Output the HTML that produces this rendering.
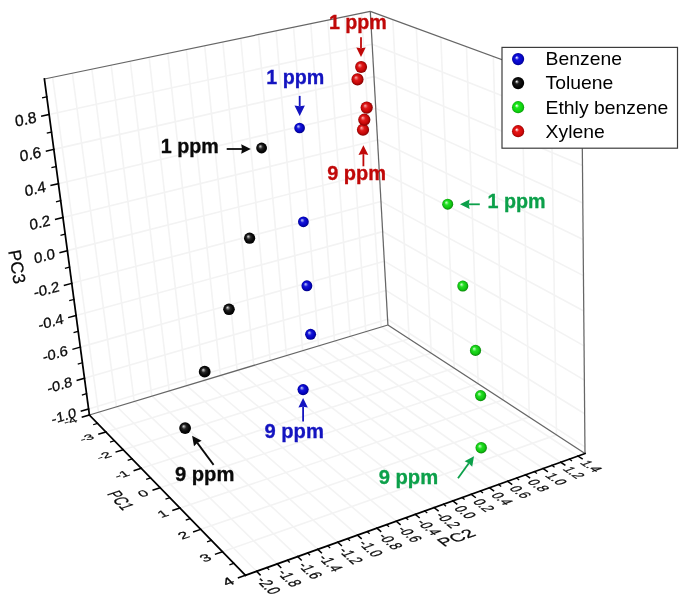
<!DOCTYPE html>
<html lang="en">
<head>
<meta charset="utf-8">
<title>PCA 3D scatter</title>
<style>
html,body{margin:0;padding:0;background:#fff;}
body{width:685px;height:597px;overflow:hidden;}
svg{display:block;font-family:"Liberation Sans",sans-serif;will-change:transform;}
</style>
</head>
<body>
<svg width="685" height="597" viewBox="0 0 685 597">
<rect width="685" height="597" fill="#fff"/>
<defs>
<radialGradient id="g_blue" cx="0.5" cy="0.5" r="0.52" fx="0.37" fy="0.36">
<stop offset="0" stop-color="#eeeeff"/><stop offset="0.09" stop-color="#c4c4fa"/><stop offset="0.2" stop-color="#6a6aee"/><stop offset="0.32" stop-color="#1212dc"/><stop offset="0.72" stop-color="#0606c6"/><stop offset="1" stop-color="#00008c"/></radialGradient>
<radialGradient id="g_black" cx="0.5" cy="0.5" r="0.52" fx="0.37" fy="0.36">
<stop offset="0" stop-color="#f6f6f6"/><stop offset="0.09" stop-color="#c8c8c8"/><stop offset="0.2" stop-color="#6c6c6c"/><stop offset="0.32" stop-color="#1c1c1c"/><stop offset="0.72" stop-color="#060606"/><stop offset="1" stop-color="#000"/></radialGradient>
<radialGradient id="g_green" cx="0.5" cy="0.5" r="0.52" fx="0.37" fy="0.36">
<stop offset="0" stop-color="#f4fff0"/><stop offset="0.09" stop-color="#ccfcc8"/><stop offset="0.2" stop-color="#7af47a"/><stop offset="0.32" stop-color="#1ce81c"/><stop offset="0.72" stop-color="#10d410"/><stop offset="1" stop-color="#0a960a"/></radialGradient>
<radialGradient id="g_red" cx="0.5" cy="0.5" r="0.52" fx="0.37" fy="0.36">
<stop offset="0" stop-color="#fff0f0"/><stop offset="0.09" stop-color="#fcc8c8"/><stop offset="0.2" stop-color="#f27070"/><stop offset="0.32" stop-color="#e61616"/><stop offset="0.72" stop-color="#d40a0a"/><stop offset="1" stop-color="#8e0000"/></radialGradient>
<radialGradient id="p_blue" cx="0.5" cy="0.5" r="0.54" fx="0.36" fy="0.33">
<stop offset="0" stop-color="#c4ccf4"/><stop offset="0.16" stop-color="#7a82ea"/><stop offset="0.36" stop-color="#1616d8"/><stop offset="0.68" stop-color="#0404c4"/><stop offset="1" stop-color="#000078"/></radialGradient>
<radialGradient id="p_black" cx="0.5" cy="0.5" r="0.54" fx="0.36" fy="0.33">
<stop offset="0" stop-color="#e2e2e2"/><stop offset="0.16" stop-color="#8a8a8a"/><stop offset="0.36" stop-color="#262626"/><stop offset="0.68" stop-color="#080808"/><stop offset="1" stop-color="#000"/></radialGradient>
<radialGradient id="p_green" cx="0.5" cy="0.5" r="0.54" fx="0.36" fy="0.33">
<stop offset="0" stop-color="#d4fccc"/><stop offset="0.16" stop-color="#84f284"/><stop offset="0.36" stop-color="#22de22"/><stop offset="0.68" stop-color="#12c812"/><stop offset="1" stop-color="#087808"/></radialGradient>
<radialGradient id="p_red" cx="0.5" cy="0.5" r="0.54" fx="0.36" fy="0.33">
<stop offset="0" stop-color="#f6b4b4"/><stop offset="0.16" stop-color="#ee6a6a"/><stop offset="0.36" stop-color="#de1a1a"/><stop offset="0.68" stop-color="#c80808"/><stop offset="1" stop-color="#700000"/></radialGradient>
</defs>
<g id="grid" fill="none">
<line x1="98.52" y1="412.25" x2="52.64" y2="77.29" stroke="#f3f3f3" stroke-width="1.6" />
<line x1="99.04" y1="412.09" x2="256.54" y2="571.31" stroke="#f3f3f3" stroke-width="1.6" />
<line x1="116.44" y1="406.85" x2="72.35" y2="73.19" stroke="#f3f3f3" stroke-width="1.6" />
<line x1="116.92" y1="406.70" x2="277.17" y2="563.91" stroke="#f3f3f3" stroke-width="1.6" />
<line x1="134.19" y1="401.49" x2="91.85" y2="69.14" stroke="#f3f3f3" stroke-width="1.6" />
<line x1="134.63" y1="401.36" x2="297.57" y2="556.59" stroke="#f3f3f3" stroke-width="1.6" />
<line x1="151.77" y1="396.19" x2="111.14" y2="65.13" stroke="#f3f3f3" stroke-width="1.6" />
<line x1="152.18" y1="396.07" x2="317.74" y2="549.36" stroke="#f3f3f3" stroke-width="1.6" />
<line x1="169.18" y1="390.95" x2="130.24" y2="61.17" stroke="#f3f3f3" stroke-width="1.6" />
<line x1="169.56" y1="390.83" x2="337.68" y2="542.20" stroke="#f3f3f3" stroke-width="1.6" />
<line x1="186.42" y1="385.75" x2="149.14" y2="57.24" stroke="#f3f3f3" stroke-width="1.6" />
<line x1="186.78" y1="385.64" x2="357.40" y2="535.13" stroke="#f3f3f3" stroke-width="1.6" />
<line x1="203.50" y1="380.60" x2="167.84" y2="53.36" stroke="#f3f3f3" stroke-width="1.6" />
<line x1="203.84" y1="380.49" x2="376.90" y2="528.14" stroke="#f3f3f3" stroke-width="1.6" />
<line x1="220.42" y1="375.50" x2="186.35" y2="49.51" stroke="#f3f3f3" stroke-width="1.6" />
<line x1="220.75" y1="375.40" x2="396.18" y2="521.22" stroke="#f3f3f3" stroke-width="1.6" />
<line x1="237.17" y1="370.44" x2="204.67" y2="45.71" stroke="#f3f3f3" stroke-width="1.6" />
<line x1="237.50" y1="370.35" x2="415.26" y2="514.38" stroke="#f3f3f3" stroke-width="1.6" />
<line x1="253.77" y1="365.44" x2="222.80" y2="41.94" stroke="#f3f3f3" stroke-width="1.6" />
<line x1="254.10" y1="365.34" x2="434.12" y2="507.61" stroke="#f3f3f3" stroke-width="1.6" />
<line x1="270.22" y1="360.48" x2="240.75" y2="38.21" stroke="#f3f3f3" stroke-width="1.6" />
<line x1="270.54" y1="360.38" x2="452.79" y2="500.92" stroke="#f3f3f3" stroke-width="1.6" />
<line x1="286.51" y1="355.57" x2="258.52" y2="34.52" stroke="#f3f3f3" stroke-width="1.6" />
<line x1="286.84" y1="355.47" x2="471.25" y2="494.30" stroke="#f3f3f3" stroke-width="1.6" />
<line x1="302.65" y1="350.70" x2="276.11" y2="30.87" stroke="#f3f3f3" stroke-width="1.6" />
<line x1="302.99" y1="350.60" x2="489.51" y2="487.75" stroke="#f3f3f3" stroke-width="1.6" />
<line x1="318.64" y1="345.88" x2="293.53" y2="27.25" stroke="#f3f3f3" stroke-width="1.6" />
<line x1="318.99" y1="345.78" x2="507.57" y2="481.27" stroke="#f3f3f3" stroke-width="1.6" />
<line x1="334.49" y1="341.10" x2="310.77" y2="23.67" stroke="#f3f3f3" stroke-width="1.6" />
<line x1="334.86" y1="340.99" x2="525.45" y2="474.86" stroke="#f3f3f3" stroke-width="1.6" />
<line x1="350.19" y1="336.37" x2="327.85" y2="20.12" stroke="#f3f3f3" stroke-width="1.6" />
<line x1="350.58" y1="336.25" x2="543.13" y2="468.52" stroke="#f3f3f3" stroke-width="1.6" />
<line x1="365.74" y1="331.68" x2="344.75" y2="16.61" stroke="#f3f3f3" stroke-width="1.6" />
<line x1="366.16" y1="331.55" x2="560.64" y2="462.24" stroke="#f3f3f3" stroke-width="1.6" />
<line x1="381.16" y1="327.03" x2="361.49" y2="13.13" stroke="#f3f3f3" stroke-width="1.6" />
<line x1="381.61" y1="326.90" x2="577.95" y2="456.03" stroke="#f3f3f3" stroke-width="1.6" />
<line x1="88.59" y1="408.92" x2="387.58" y2="319.29" stroke="#f3f3f3" stroke-width="1.6" />
<line x1="387.58" y1="319.27" x2="584.94" y2="446.94" stroke="#f3f3f3" stroke-width="1.6" />
<line x1="84.48" y1="378.26" x2="385.96" y2="290.49" stroke="#f3f3f3" stroke-width="1.6" />
<line x1="385.96" y1="290.41" x2="584.65" y2="413.80" stroke="#f3f3f3" stroke-width="1.6" />
<line x1="80.31" y1="347.12" x2="384.32" y2="261.27" stroke="#f3f3f3" stroke-width="1.6" />
<line x1="384.32" y1="261.13" x2="584.36" y2="380.11" stroke="#f3f3f3" stroke-width="1.6" />
<line x1="76.07" y1="315.47" x2="382.66" y2="231.62" stroke="#f3f3f3" stroke-width="1.6" />
<line x1="382.65" y1="231.45" x2="584.05" y2="345.86" stroke="#f3f3f3" stroke-width="1.6" />
<line x1="71.76" y1="283.32" x2="380.97" y2="201.54" stroke="#f3f3f3" stroke-width="1.6" />
<line x1="380.96" y1="201.34" x2="583.75" y2="311.03" stroke="#f3f3f3" stroke-width="1.6" />
<line x1="67.39" y1="250.65" x2="379.26" y2="171.01" stroke="#f3f3f3" stroke-width="1.6" />
<line x1="379.25" y1="170.80" x2="583.44" y2="275.60" stroke="#f3f3f3" stroke-width="1.6" />
<line x1="62.94" y1="217.44" x2="377.52" y2="140.02" stroke="#f3f3f3" stroke-width="1.6" />
<line x1="377.51" y1="139.82" x2="583.12" y2="239.56" stroke="#f3f3f3" stroke-width="1.6" />
<line x1="58.42" y1="183.68" x2="375.76" y2="108.57" stroke="#f3f3f3" stroke-width="1.6" />
<line x1="375.75" y1="108.39" x2="582.80" y2="202.90" stroke="#f3f3f3" stroke-width="1.6" />
<line x1="53.82" y1="149.37" x2="373.97" y2="76.64" stroke="#f3f3f3" stroke-width="1.6" />
<line x1="373.96" y1="76.50" x2="582.47" y2="165.60" stroke="#f3f3f3" stroke-width="1.6" />
<line x1="49.15" y1="114.48" x2="372.15" y2="44.22" stroke="#f3f3f3" stroke-width="1.6" />
<line x1="372.14" y1="44.14" x2="582.14" y2="127.64" stroke="#f3f3f3" stroke-width="1.6" />
<line x1="409.14" y1="338.85" x2="392.81" y2="19.57" stroke="#f3f3f3" stroke-width="1.6" />
<line x1="105.92" y1="431.98" x2="409.08" y2="338.81" stroke="#f3f3f3" stroke-width="1.6" />
<line x1="431.24" y1="353.26" x2="416.30" y2="28.20" stroke="#f3f3f3" stroke-width="1.6" />
<line x1="123.18" y1="449.71" x2="431.13" y2="353.18" stroke="#f3f3f3" stroke-width="1.6" />
<line x1="454.24" y1="368.25" x2="440.83" y2="37.21" stroke="#f3f3f3" stroke-width="1.6" />
<line x1="141.23" y1="468.26" x2="454.09" y2="368.15" stroke="#f3f3f3" stroke-width="1.6" />
<line x1="478.21" y1="383.88" x2="466.47" y2="46.63" stroke="#f3f3f3" stroke-width="1.6" />
<line x1="160.12" y1="487.67" x2="478.04" y2="383.77" stroke="#f3f3f3" stroke-width="1.6" />
<line x1="503.19" y1="400.17" x2="493.30" y2="56.49" stroke="#f3f3f3" stroke-width="1.6" />
<line x1="179.91" y1="508.01" x2="503.03" y2="400.06" stroke="#f3f3f3" stroke-width="1.6" />
<line x1="529.27" y1="417.17" x2="521.40" y2="66.81" stroke="#f3f3f3" stroke-width="1.6" />
<line x1="200.67" y1="529.34" x2="529.14" y2="417.08" stroke="#f3f3f3" stroke-width="1.6" />
<line x1="556.51" y1="434.93" x2="550.87" y2="77.64" stroke="#f3f3f3" stroke-width="1.6" />
<line x1="222.48" y1="551.74" x2="556.43" y2="434.87" stroke="#f3f3f3" stroke-width="1.6" />
</g>
<g id="edges">
<line x1="44.40" y1="79.00" x2="370.30" y2="11.30" stroke="#666666" stroke-width="1.25" />
<line x1="370.30" y1="11.30" x2="387.90" y2="325.00" stroke="#666666" stroke-width="1.25" />
<line x1="89.40" y1="415.00" x2="387.90" y2="325.00" stroke="#666666" stroke-width="1.25" />
<line x1="387.90" y1="325.00" x2="585.00" y2="453.50" stroke="#666666" stroke-width="1.25" />
<line x1="370.30" y1="11.30" x2="581.80" y2="89.00" stroke="#666666" stroke-width="1.25" />
<line x1="581.80" y1="89.00" x2="585.00" y2="453.50" stroke="#666666" stroke-width="1.25" />
</g>
<g id="axes" stroke-linecap="square">
<line x1="44.40" y1="79.00" x2="89.40" y2="415.00" stroke="#000" stroke-width="1.75" />
<line x1="89.40" y1="415.00" x2="245.40" y2="575.30" stroke="#000" stroke-width="1.75" />
<line x1="245.40" y1="575.30" x2="585.00" y2="453.50" stroke="#000" stroke-width="1.75" />
<line x1="88.59" y1="408.92" x2="81.40" y2="411.08" stroke="#000" stroke-width="1.5" />
<line x1="86.54" y1="393.65" x2="82.51" y2="394.84" stroke="#000" stroke-width="1.3" />
<line x1="84.48" y1="378.26" x2="77.28" y2="380.36" stroke="#000" stroke-width="1.5" />
<line x1="82.40" y1="362.75" x2="78.37" y2="363.91" stroke="#000" stroke-width="1.3" />
<line x1="80.31" y1="347.12" x2="73.09" y2="349.15" stroke="#000" stroke-width="1.5" />
<line x1="78.20" y1="331.36" x2="74.15" y2="332.48" stroke="#000" stroke-width="1.3" />
<line x1="76.07" y1="315.47" x2="68.84" y2="317.45" stroke="#000" stroke-width="1.5" />
<line x1="73.93" y1="299.46" x2="69.87" y2="300.55" stroke="#000" stroke-width="1.3" />
<line x1="71.76" y1="283.32" x2="64.51" y2="285.24" stroke="#000" stroke-width="1.5" />
<line x1="69.59" y1="267.05" x2="65.52" y2="268.11" stroke="#000" stroke-width="1.3" />
<line x1="67.39" y1="250.65" x2="60.12" y2="252.50" stroke="#000" stroke-width="1.5" />
<line x1="65.17" y1="234.11" x2="61.10" y2="235.13" stroke="#000" stroke-width="1.3" />
<line x1="62.94" y1="217.44" x2="55.66" y2="219.23" stroke="#000" stroke-width="1.5" />
<line x1="60.69" y1="200.63" x2="56.61" y2="201.62" stroke="#000" stroke-width="1.3" />
<line x1="58.42" y1="183.68" x2="51.12" y2="185.41" stroke="#000" stroke-width="1.5" />
<line x1="56.13" y1="166.60" x2="52.04" y2="167.55" stroke="#000" stroke-width="1.3" />
<line x1="53.82" y1="149.37" x2="46.51" y2="151.03" stroke="#000" stroke-width="1.5" />
<line x1="51.50" y1="132.00" x2="47.40" y2="132.91" stroke="#000" stroke-width="1.3" />
<line x1="49.15" y1="114.48" x2="41.82" y2="116.07" stroke="#000" stroke-width="1.5" />
<line x1="46.79" y1="96.81" x2="42.68" y2="97.69" stroke="#000" stroke-width="1.3" />
<line x1="89.40" y1="415.00" x2="82.41" y2="417.11" stroke="#000" stroke-width="1.5" />
<line x1="97.57" y1="423.40" x2="93.75" y2="424.56" stroke="#000" stroke-width="1.3" />
<line x1="105.92" y1="431.98" x2="98.95" y2="434.12" stroke="#000" stroke-width="1.5" />
<line x1="114.46" y1="440.75" x2="110.64" y2="441.93" stroke="#000" stroke-width="1.3" />
<line x1="123.18" y1="449.71" x2="116.22" y2="451.90" stroke="#000" stroke-width="1.5" />
<line x1="132.11" y1="458.88" x2="128.29" y2="460.09" stroke="#000" stroke-width="1.3" />
<line x1="141.23" y1="468.26" x2="134.28" y2="470.48" stroke="#000" stroke-width="1.5" />
<line x1="150.57" y1="477.85" x2="146.76" y2="479.08" stroke="#000" stroke-width="1.3" />
<line x1="160.12" y1="487.67" x2="153.18" y2="489.94" stroke="#000" stroke-width="1.5" />
<line x1="169.90" y1="497.72" x2="166.10" y2="498.97" stroke="#000" stroke-width="1.3" />
<line x1="179.91" y1="508.01" x2="172.99" y2="510.32" stroke="#000" stroke-width="1.5" />
<line x1="190.17" y1="518.54" x2="186.38" y2="519.82" stroke="#000" stroke-width="1.3" />
<line x1="200.67" y1="529.34" x2="193.77" y2="531.70" stroke="#000" stroke-width="1.5" />
<line x1="211.44" y1="540.40" x2="207.66" y2="541.71" stroke="#000" stroke-width="1.3" />
<line x1="222.48" y1="551.74" x2="215.59" y2="554.15" stroke="#000" stroke-width="1.5" />
<line x1="233.79" y1="563.37" x2="230.02" y2="564.71" stroke="#000" stroke-width="1.3" />
<line x1="245.40" y1="575.30" x2="238.53" y2="577.76" stroke="#000" stroke-width="1.5" />
<line x1="256.54" y1="571.31" x2="260.05" y2="574.86" stroke="#000" stroke-width="1.5" />
<line x1="266.88" y1="567.60" x2="268.72" y2="569.43" stroke="#000" stroke-width="1.3" />
<line x1="277.17" y1="563.91" x2="280.74" y2="567.41" stroke="#000" stroke-width="1.5" />
<line x1="287.40" y1="560.24" x2="289.27" y2="562.04" stroke="#000" stroke-width="1.3" />
<line x1="297.57" y1="556.59" x2="301.19" y2="560.04" stroke="#000" stroke-width="1.5" />
<line x1="307.68" y1="552.96" x2="309.57" y2="554.74" stroke="#000" stroke-width="1.3" />
<line x1="317.74" y1="549.36" x2="321.40" y2="552.75" stroke="#000" stroke-width="1.5" />
<line x1="327.73" y1="545.77" x2="329.65" y2="547.52" stroke="#000" stroke-width="1.3" />
<line x1="337.68" y1="542.20" x2="341.39" y2="545.55" stroke="#000" stroke-width="1.5" />
<line x1="347.56" y1="538.66" x2="349.51" y2="540.38" stroke="#000" stroke-width="1.3" />
<line x1="357.40" y1="535.13" x2="361.16" y2="538.43" stroke="#000" stroke-width="1.5" />
<line x1="367.17" y1="531.62" x2="369.14" y2="533.33" stroke="#000" stroke-width="1.3" />
<line x1="376.90" y1="528.14" x2="380.70" y2="531.38" stroke="#000" stroke-width="1.5" />
<line x1="386.57" y1="524.67" x2="388.56" y2="526.34" stroke="#000" stroke-width="1.3" />
<line x1="396.18" y1="521.22" x2="400.03" y2="524.42" stroke="#000" stroke-width="1.5" />
<line x1="405.75" y1="517.79" x2="407.76" y2="519.44" stroke="#000" stroke-width="1.3" />
<line x1="415.26" y1="514.38" x2="419.14" y2="517.53" stroke="#000" stroke-width="1.5" />
<line x1="424.72" y1="510.99" x2="426.75" y2="512.61" stroke="#000" stroke-width="1.3" />
<line x1="434.12" y1="507.61" x2="438.05" y2="510.71" stroke="#000" stroke-width="1.5" />
<line x1="443.48" y1="504.26" x2="445.53" y2="505.86" stroke="#000" stroke-width="1.3" />
<line x1="452.79" y1="500.92" x2="456.75" y2="503.97" stroke="#000" stroke-width="1.5" />
<line x1="462.04" y1="497.60" x2="464.11" y2="499.18" stroke="#000" stroke-width="1.3" />
<line x1="471.25" y1="494.30" x2="475.24" y2="497.31" stroke="#000" stroke-width="1.5" />
<line x1="480.40" y1="491.02" x2="482.49" y2="492.57" stroke="#000" stroke-width="1.3" />
<line x1="489.51" y1="487.75" x2="493.54" y2="490.71" stroke="#000" stroke-width="1.5" />
<line x1="498.56" y1="484.50" x2="500.67" y2="486.03" stroke="#000" stroke-width="1.3" />
<line x1="507.57" y1="481.27" x2="511.63" y2="484.19" stroke="#000" stroke-width="1.5" />
<line x1="516.54" y1="478.06" x2="518.65" y2="479.56" stroke="#000" stroke-width="1.3" />
<line x1="525.45" y1="474.86" x2="529.54" y2="477.73" stroke="#000" stroke-width="1.5" />
<line x1="534.32" y1="471.68" x2="536.45" y2="473.16" stroke="#000" stroke-width="1.3" />
<line x1="543.13" y1="468.52" x2="547.26" y2="471.35" stroke="#000" stroke-width="1.5" />
<line x1="551.91" y1="465.37" x2="554.06" y2="466.83" stroke="#000" stroke-width="1.3" />
<line x1="560.64" y1="462.24" x2="564.79" y2="465.03" stroke="#000" stroke-width="1.5" />
<line x1="569.32" y1="459.13" x2="571.48" y2="460.56" stroke="#000" stroke-width="1.3" />
<line x1="577.95" y1="456.03" x2="582.13" y2="458.78" stroke="#000" stroke-width="1.5" />
</g>
<g id="ticklabels" fill="#0a0a0a" stroke="#0a0a0a" stroke-width="0.3">
<text transform="matrix(0.9437 -0.2829 0.1205 0.8999 76.13 412.66)" x="0.00" y="4.70" text-anchor="end" font-size="15.0" font-weight="normal">-1.0</text>
<text transform="matrix(0.9521 -0.2772 0.1224 0.9141 72.00 381.90)" x="0.00" y="4.70" text-anchor="end" font-size="15.0" font-weight="normal">-0.8</text>
<text transform="matrix(0.9608 -0.2713 0.1244 0.9286 67.80 350.65)" x="0.00" y="4.70" text-anchor="end" font-size="15.0" font-weight="normal">-0.6</text>
<text transform="matrix(0.9695 -0.2652 0.1264 0.9435 63.53 318.90)" x="0.00" y="4.70" text-anchor="end" font-size="15.0" font-weight="normal">-0.4</text>
<text transform="matrix(0.9785 -0.2588 0.1284 0.9587 59.20 286.64)" x="0.00" y="4.70" text-anchor="end" font-size="15.0" font-weight="normal">-0.2</text>
<text transform="matrix(0.9876 -0.2522 0.1305 0.9743 54.79 253.86)" x="0.00" y="4.70" text-anchor="end" font-size="15.0" font-weight="normal">0.0</text>
<text transform="matrix(0.9968 -0.2453 0.1326 0.9903 50.32 220.55)" x="0.00" y="4.70" text-anchor="end" font-size="15.0" font-weight="normal">0.2</text>
<text transform="matrix(1.0063 -0.2382 0.1348 1.0067 45.77 186.68)" x="0.00" y="4.70" text-anchor="end" font-size="15.0" font-weight="normal">0.4</text>
<text transform="matrix(1.0159 -0.2308 0.1371 1.0235 41.15 152.25)" x="0.00" y="4.70" text-anchor="end" font-size="15.0" font-weight="normal">0.6</text>
<text transform="matrix(1.0257 -0.2231 0.1394 1.0407 36.45 117.24)" x="0.00" y="4.70" text-anchor="end" font-size="15.0" font-weight="normal">0.8</text>
<text transform="matrix(0.9398 -0.2834 0.4202 0.4318 76.38 418.93)" x="0.00" y="5.40" text-anchor="end" font-size="15.0" font-weight="normal">-4</text>
<text transform="matrix(0.9561 -0.2938 0.4387 0.4508 92.92 435.97)" x="0.00" y="5.40" text-anchor="end" font-size="15.0" font-weight="normal">-3</text>
<text transform="matrix(0.9729 -0.3050 0.4585 0.4711 110.21 453.78)" x="0.00" y="5.40" text-anchor="end" font-size="15.0" font-weight="normal">-2</text>
<text transform="matrix(0.9903 -0.3169 0.4796 0.4929 128.28 472.40)" x="0.00" y="5.40" text-anchor="end" font-size="15.0" font-weight="normal">-1</text>
<text transform="matrix(1.0083 -0.3295 0.5023 0.5161 147.19 491.89)" x="0.00" y="5.40" text-anchor="end" font-size="15.0" font-weight="normal">0</text>
<text transform="matrix(1.0269 -0.3431 0.5266 0.5411 167.01 512.32)" x="0.00" y="5.40" text-anchor="end" font-size="15.0" font-weight="normal">1</text>
<text transform="matrix(1.0461 -0.3575 0.5527 0.5679 187.80 533.74)" x="0.00" y="5.40" text-anchor="end" font-size="15.0" font-weight="normal">2</text>
<text transform="matrix(1.0660 -0.3730 0.5807 0.5967 209.64 556.24)" x="0.00" y="5.40" text-anchor="end" font-size="15.0" font-weight="normal">3</text>
<text transform="matrix(1.0865 -0.3897 0.6110 0.6278 232.60 579.89)" x="0.00" y="5.40" text-anchor="end" font-size="15.0" font-weight="normal">4</text>
<text transform="matrix(0.5780 0.5843 -1.0799 0.3873 262.72 577.56)" x="0.00" y="6.60" text-anchor="start" font-size="15.0" font-weight="normal">-2.0</text>
<text transform="matrix(0.5875 0.5764 -1.0676 0.3829 283.45 570.07)" x="0.00" y="6.60" text-anchor="start" font-size="15.0" font-weight="normal">-1.8</text>
<text transform="matrix(0.5968 0.5686 -1.0555 0.3786 303.94 562.66)" x="0.00" y="6.60" text-anchor="start" font-size="15.0" font-weight="normal">-1.6</text>
<text transform="matrix(0.6058 0.5609 -1.0437 0.3743 324.19 555.34)" x="0.00" y="6.60" text-anchor="start" font-size="15.0" font-weight="normal">-1.4</text>
<text transform="matrix(0.6146 0.5534 -1.0320 0.3701 344.22 548.09)" x="0.00" y="6.60" text-anchor="start" font-size="15.0" font-weight="normal">-1.2</text>
<text transform="matrix(0.6232 0.5460 -1.0205 0.3660 364.02 540.93)" x="0.00" y="6.60" text-anchor="start" font-size="15.0" font-weight="normal">-1.0</text>
<text transform="matrix(0.6315 0.5388 -1.0092 0.3620 383.59 533.85)" x="0.00" y="6.60" text-anchor="start" font-size="15.0" font-weight="normal">-0.8</text>
<text transform="matrix(0.6396 0.5316 -0.9981 0.3580 402.95 526.85)" x="0.00" y="6.60" text-anchor="start" font-size="15.0" font-weight="normal">-0.6</text>
<text transform="matrix(0.6475 0.5246 -0.9872 0.3541 422.10 519.92)" x="0.00" y="6.60" text-anchor="start" font-size="15.0" font-weight="normal">-0.4</text>
<text transform="matrix(0.6552 0.5178 -0.9764 0.3502 441.03 513.07)" x="0.00" y="6.60" text-anchor="start" font-size="15.0" font-weight="normal">-0.2</text>
<text transform="matrix(0.6627 0.5110 -0.9659 0.3464 459.75 506.29)" x="0.00" y="6.60" text-anchor="start" font-size="15.0" font-weight="normal">0.0</text>
<text transform="matrix(0.6699 0.5043 -0.9555 0.3427 478.28 499.59)" x="0.00" y="6.60" text-anchor="start" font-size="15.0" font-weight="normal">0.2</text>
<text transform="matrix(0.6770 0.4978 -0.9452 0.3390 496.60 492.96)" x="0.00" y="6.60" text-anchor="start" font-size="15.0" font-weight="normal">0.4</text>
<text transform="matrix(0.6839 0.4914 -0.9352 0.3354 514.72 486.40)" x="0.00" y="6.60" text-anchor="start" font-size="15.0" font-weight="normal">0.6</text>
<text transform="matrix(0.6906 0.4851 -0.9253 0.3319 532.65 479.92)" x="0.00" y="6.60" text-anchor="start" font-size="15.0" font-weight="normal">0.8</text>
<text transform="matrix(0.6971 0.4789 -0.9155 0.3284 550.39 473.50)" x="0.00" y="6.60" text-anchor="start" font-size="15.0" font-weight="normal">1.0</text>
<text transform="matrix(0.7035 0.4727 -0.9059 0.3249 567.94 467.15)" x="0.00" y="6.60" text-anchor="start" font-size="15.0" font-weight="normal">1.2</text>
<text transform="matrix(0.7097 0.4667 -0.8965 0.3215 585.30 460.86)" x="0.00" y="6.60" text-anchor="start" font-size="15.0" font-weight="normal">1.4</text>
</g>
<g id="titles" fill="#0a0a0a" stroke="#0a0a0a" stroke-width="0.25">
<text transform="translate(17.0 266.7) rotate(80)" text-anchor="middle" font-size="17.5" y="6">PC3</text>
<text transform="matrix(0.4839 0.4973 -1.0138 0.3335 121.00 500.20)" x="0.00" y="6.30" text-anchor="middle" font-size="17.5" font-weight="normal">PC1</text>
<text transform="matrix(0.9818 -0.3521 0.6948 0.5559 456.00 537.50)" x="0.00" y="6.30" text-anchor="middle" font-size="17.5" font-weight="normal">PC2</text>
</g>
<g id="points">
<circle cx="299.6" cy="128.0" r="5.35" fill="url(#p_blue)"/>
<circle cx="303.4" cy="221.8" r="5.4" fill="url(#p_blue)"/>
<circle cx="306.9" cy="285.8" r="5.45" fill="url(#p_blue)"/>
<circle cx="310.6" cy="334.3" r="5.5" fill="url(#p_blue)"/>
<circle cx="303.1" cy="389.6" r="5.6" fill="url(#p_blue)"/>
<circle cx="261.6" cy="148.0" r="5.4" fill="url(#p_black)"/>
<circle cx="249.6" cy="238.2" r="5.6" fill="url(#p_black)"/>
<circle cx="229.0" cy="309.3" r="5.8" fill="url(#p_black)"/>
<circle cx="204.7" cy="371.7" r="5.9" fill="url(#p_black)"/>
<circle cx="185.1" cy="428.1" r="5.9" fill="url(#p_black)"/>
<circle cx="447.7" cy="204.2" r="5.5" fill="url(#p_green)"/>
<circle cx="462.8" cy="286.1" r="5.5" fill="url(#p_green)"/>
<circle cx="475.5" cy="350.4" r="5.6" fill="url(#p_green)"/>
<circle cx="480.6" cy="395.6" r="5.6" fill="url(#p_green)"/>
<circle cx="481.2" cy="447.8" r="5.7" fill="url(#p_green)"/>
<circle cx="357.5" cy="79.4" r="6.05" fill="url(#p_red)"/>
<circle cx="361.1" cy="67.1" r="6.0" fill="url(#p_red)"/>
<circle cx="363.0" cy="129.7" r="6.1" fill="url(#p_red)"/>
<circle cx="364.3" cy="119.7" r="6.1" fill="url(#p_red)"/>
<circle cx="366.7" cy="107.6" r="6.1" fill="url(#p_red)"/>
</g>
<g id="annotations">
<text x="160.8" y="152.8" fill="#0a0a0a" stroke="#0a0a0a" stroke-width="0.3" font-size="19.7" font-weight="bold">1 ppm</text>
<line x1="226.7" y1="149.0" x2="242.0" y2="149.0" stroke="#0a0a0a" stroke-width="1.8"/>
<polygon points="250.8,149.0 241.2,153.7 242.0,149.0 241.2,144.3" fill="#0a0a0a"/>
<text x="266.3" y="83.6" fill="#1414c0" stroke="#1414c0" stroke-width="0.3" font-size="19.7" font-weight="bold">1 ppm</text>
<line x1="299.7" y1="95.9" x2="299.7" y2="106.3" stroke="#1414c0" stroke-width="1.8"/>
<polygon points="299.7,116.0 294.5,105.5 299.7,106.3 304.9,105.5" fill="#1414c0"/>
<text x="328.9" y="29.0" fill="#c00808" stroke="#c00808" stroke-width="0.3" font-size="19.7" font-weight="bold">1 ppm</text>
<line x1="361.0" y1="37.2" x2="361.0" y2="48.2" stroke="#c00808" stroke-width="1.8"/>
<polygon points="361.0,57.0 356.3,47.4 361.0,48.2 365.7,47.4" fill="#c00808"/>
<text x="327.2" y="180.2" fill="#c00808" stroke="#c00808" stroke-width="0.3" font-size="20.0" font-weight="bold">9 ppm</text>
<line x1="363.4" y1="166.3" x2="363.4" y2="154.1" stroke="#c00808" stroke-width="1.8"/>
<polygon points="363.4,145.3 368.3,154.9 363.4,154.1 358.5,154.9" fill="#c00808"/>
<text x="487.6" y="208.2" fill="#0ca04a" stroke="#0ca04a" stroke-width="0.3" font-size="19.7" font-weight="bold">1 ppm</text>
<line x1="479.8" y1="204.3" x2="468.8" y2="204.3" stroke="#0ca04a" stroke-width="1.8"/>
<polygon points="460.0,204.3 469.6,199.6 468.8,204.3 469.6,209.0" fill="#0ca04a"/>
<text x="264.4" y="438.0" fill="#1414c0" stroke="#1414c0" stroke-width="0.3" font-size="20.2" font-weight="bold">9 ppm</text>
<line x1="303.1" y1="421.4" x2="303.1" y2="406.8" stroke="#1414c0" stroke-width="1.8"/>
<polygon points="303.1,398.0 307.8,407.6 303.1,406.8 298.4,407.6" fill="#1414c0"/>
<text x="174.9" y="480.9" fill="#0a0a0a" stroke="#0a0a0a" stroke-width="0.3" font-size="20.2" font-weight="bold">9 ppm</text>
<line x1="213.6" y1="464.9" x2="197.3" y2="442.9" stroke="#0a0a0a" stroke-width="1.8"/>
<polygon points="192.1,435.8 201.6,440.7 197.3,442.9 194.0,446.3" fill="#0a0a0a"/>
<text x="378.7" y="484.4" fill="#0ca04a" stroke="#0ca04a" stroke-width="0.3" font-size="20.2" font-weight="bold">9 ppm</text>
<line x1="458.0" y1="478.2" x2="468.8" y2="463.3" stroke="#0ca04a" stroke-width="1.8"/>
<polygon points="474.0,456.2 472.2,466.7 468.8,463.3 464.6,461.2" fill="#0ca04a"/>
</g>
<g id="legend">
<rect x="502.0" y="47.4" width="175.5" height="100.8" fill="#fff" stroke="#3c3c3c" stroke-width="1.2"/>
<circle cx="518.1" cy="59.1" r="6.1" fill="url(#g_blue)"/>
<text transform="translate(545.6 65.4) scale(1.075 1)" font-size="18" fill="#000">Benzene</text>
<circle cx="518.1" cy="83.1" r="6.1" fill="url(#g_black)"/>
<text transform="translate(545.6 89.4) scale(1.075 1)" font-size="18" fill="#000">Toluene</text>
<circle cx="518.1" cy="107.2" r="6.1" fill="url(#g_green)"/>
<text transform="translate(545.6 113.5) scale(1.075 1)" font-size="18" fill="#000">Ethly benzene</text>
<circle cx="518.1" cy="131.2" r="6.1" fill="url(#g_red)"/>
<text transform="translate(545.6 137.5) scale(1.075 1)" font-size="18" fill="#000">Xylene</text>
</g>
</svg>
</body>
</html>
